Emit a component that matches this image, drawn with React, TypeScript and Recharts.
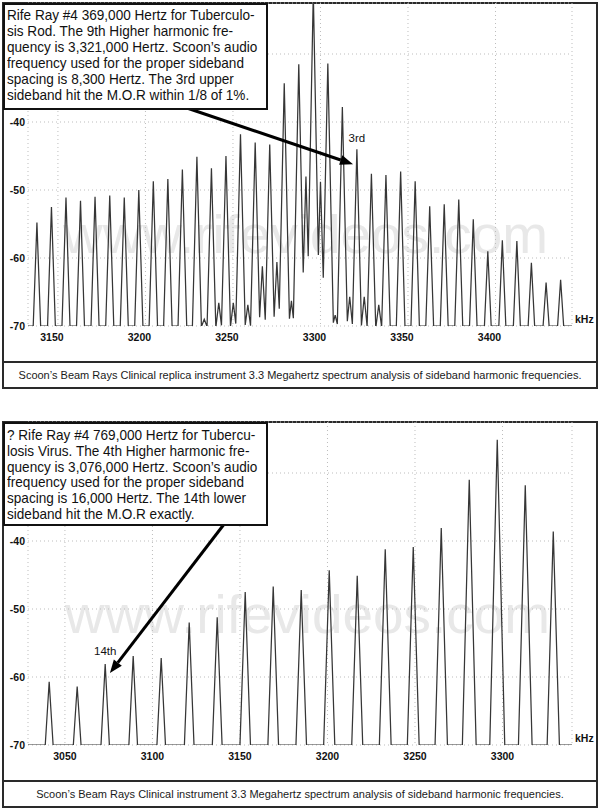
import React from 'react';
import { LineChart, Line, XAxis, YAxis, CartesianGrid, ReferenceLine, ReferenceDot } from 'recharts';

const FONT = '"Liberation Sans", Arial, Helvetica, sans-serif';
const FLOOR = -70;
const Y_TOP = -22.5;
const Y_TICKS = [-70, -60, -50, -40, -30];
const Y_LABELLED = [-70, -60, -50, -40]; // -30 only has a grid line
const PX_PER_KHZ = 1.75;

// top panel: 369,000 Hz ray, 9th harmonic, 8.3 kHz sideband spacing
const topDomain: [number, number] = [3132.9, 3443.7];
const topTicks = [3150, 3200, 3250, 3300, 3350, 3400];
const topKhz = [
  3138.0, 3146.3, 3154.6, 3162.9, 3171.2, 3179.6, 3187.9, 3196.2, 3204.5, 3212.8,
  3221.1, 3229.4, 3237.7, 3246.0, 3254.3, 3262.7, 3271.0, 3279.3, 3287.6, 3295.9,
  3304.2, 3312.5, 3320.8, 3329.1, 3337.4, 3345.8, 3354.1, 3362.4, 3370.7, 3379.0,
  3387.3, 3395.6, 3403.9, 3412.2, 3420.5, 3428.9, 3437.2,
];
const topDb = [
  -54.8, -52.5, -51.1, -51.6, -51.0, -50.8, -51.1, -50.0, -48.7, -48.4,
  -47.0, -45.1, -46.8, -45.0, -41.8, -43.0, -43.3, -34.3, -31.5, -21.0,
  -31.4, -37.8, -44.0, -47.6, -47.8, -47.3, -48.7, -52.4, -52.1, -51.4,
  -54.3, -59.0, -57.4, -57.5, -60.7, -63.6, -63.2,
];
// small in-between components
const topSubKhz = [3233.6, 3241.9, 3250.2, 3258.5, 3266.8, 3275.1, 3283.4, 3291.7, 3300.0, 3308.4, 3316.7, 3325.0, 3333.3];
const topSubDb = [-69.0, -66.6, -66.6, -66.9, -61.2, -60.6, -66.3, -48.0, -48.8, -68.4, -65.7, -65.7, -66.9];

// bottom panel: 769,000 Hz ray, 4th harmonic, 16 kHz sideband spacing
const botDomain: [number, number] = [3028.9, 3339.7];
const botTicks = [3050, 3100, 3150, 3200, 3250, 3300];
const botKhz = [3041, 3057, 3073, 3089, 3105, 3121, 3137, 3153, 3169, 3185, 3201, 3217, 3233, 3249, 3265, 3281, 3297, 3313, 3329];
const botDb = [-60.7, -61.4, -58.1, -56.9, -57.2, -52.0, -51.2, -47.5, -46.7, -47.2, -44.3, -45.1, -41.2, -40.9, -38.1, -31.0, -25.1, -31.8, -38.6];

const topNote = [
  'Rife Ray #4 369,000 Hertz for Tuberculo-',
  'sis Rod. The 9th Higher harmonic fre-',
  'quency is 3,321,000 Hertz. Scoon\u2019s audio',
  'frequency used for the proper sideband',
  'spacing is 8,300 Hertz. The 3rd upper',
  'sideband hit the M.O.R within 1/8 of 1%.',
];
const botNote = [
  '? Rife Ray #4 769,000 Hertz for Tubercu-',
  'losis Virus. The 4th Higher harmonic fre-',
  'quency is 3,076,000 Hertz. Scoon\u2019s audio',
  'frequency used for the proper sideband',
  'spacing is 16,000 Hertz. The 14th lower',
  'sideband hit the M.O.R exactly.',
];
const topCaption = 'Scoon\u2019s Beam Rays Clinical replica instrument 3.3 Megahertz spectrum analysis of sideband harmonic frequencies.';
const botCaption = 'Scoon\u2019s Beam Rays Clinical instrument 3.3 Megahertz spectrum analysis of sideband harmonic frequencies.';

type Pt = { f: number; v: number };

// turns peak list into a spike trace sitting on the -70 floor
function buildTrace(
  groups: [number[], number[]][],
  domain: [number, number],
  hbBase: number,
  hbSlope: number
): Pt[] {
  const peaks = groups
    .flatMap(([fs, vs]) =>
      fs.map((f, i) => {
        const h = vs[i] - FLOOR;
        const hb = (hbBase + hbSlope * h) / PX_PER_KHZ;
        return { f, v: vs[i], hb, s: h / hb };
      })
    )
    .sort((a, b) => a.f - b.f);
  const pts: Pt[] = [{ f: domain[0], v: FLOOR }];
  peaks.forEach((p, i) => {
    if (i === 0) pts.push({ f: p.f - p.hb, v: FLOOR });
    pts.push({ f: p.f, v: p.v });
    const n = peaks[i + 1];
    if (!n) {
      pts.push({ f: p.f + p.hb, v: FLOOR });
      return;
    }
    if (p.f + p.hb <= n.f - n.hb) {
      pts.push({ f: p.f + p.hb, v: FLOOR }, { f: n.f - n.hb, v: FLOOR });
    } else {
      const f = (p.v - n.v + p.s * p.f + n.s * n.f) / (p.s + n.s);
      pts.push({ f, v: p.v - p.s * (f - p.f) });
    }
  });
  pts.push({ f: domain[1], v: FLOOR });
  return pts;
}

const topData = buildTrace([[topKhz, topDb], [topSubKhz, topSubDb]], topDomain, 2.5, 0.08);
const botData = buildTrace([[botKhz, botDb]], botDomain, 3, 0.1);

const Arrow = (p: any) => {
  const { x1, y1, x2, y2 } = p;
  const a = Math.atan2(y2 - y1, x2 - x1);
  const L = 13;
  const W = 5;
  const bx = x2 - L * Math.cos(a);
  const by = y2 - L * Math.sin(a);
  const nx = -Math.sin(a) * W;
  const ny = Math.cos(a) * W;
  return (
    <g>
      <line x1={x1} y1={y1} x2={bx} y2={by} stroke="#000" strokeWidth={3} />
      <polygon points={`${x2},${y2} ${bx + nx},${by + ny} ${bx - nx},${by - ny}`} fill="#000" />
    </g>
  );
};

const XTick = ({ x, y, payload, shift }: any) => (
  <text x={x + (shift || 0)} y={y} dy="0.71em" textAnchor="middle" fontSize={10.5} fontWeight="bold" fill="#111" fontFamily={FONT}>
    {payload.value}
  </text>
);

const YTick = ({ x, y, payload }: any) =>
  Y_LABELLED.includes(payload.value) ? (
    <text x={x} y={y} dy="0.355em" textAnchor="end" fontSize={10.5} fontWeight="bold" fill="#111" fontFamily={FONT}>
      {payload.value}
    </text>
  ) : (
    <g />
  );

const khzLabel = (props: any) => {
  const vb = props.viewBox || {};
  return (
    <text x={vb.x + vb.width + 3} y={vb.y - 3} fontSize={10.5} fontWeight="bold" fill="#111" fontFamily={FONT}>
      kHz
    </text>
  );
};

interface PanelProps {
  top: number;
  data: Pt[];
  domain: [number, number];
  ticks: number[];
  tickShift: number;
  note: string[];
  noteH: number;
  noteTop: number;
  noteLine: number;
  caption: string;
  mark: { f: number; v: number; text: string; offset: number };
  arrow: [number, number, number, number];
  wmY: number;
  wmX: number;
}

const Panel = ({ top, data, domain, ticks, tickShift, note, noteH, noteTop, noteLine, caption, mark, arrow, wmY, wmX }: PanelProps) => (
  <div style={{ position: 'absolute', left: 0, top, width: 600, height: 392 }}>
    <div style={{ position: 'absolute', left: 2, top: 2, width: 596, height: 387, boxSizing: 'border-box', border: '2px solid #2a2a2a', background: '#fff' }} />
    <svg width={600} height={360} style={{ position: 'absolute', left: 0, top: 0 }}>
      <text x={wmX} y={wmY} fontSize={54} fill="#e8e8e8" fontFamily={FONT} textLength={485} lengthAdjust="spacingAndGlyphs">
        www.rifevideos.com
      </text>
    </svg>
    <div style={{ position: 'absolute', left: 0, top: 0 }}>
      <LineChart width={600} height={362} data={data} margin={{ top: 3, right: 28, bottom: 6, left: 0 }}>
        <CartesianGrid stroke="#bdbdbd" strokeDasharray="1 3" />
        <XAxis
          type="number"
          dataKey="f"
          domain={domain}
          ticks={ticks}
          interval={0}
          allowDataOverflow
          axisLine={false}
          tickLine={false}
          tickSize={0}
          tickMargin={8}
          height={30}
          tick={<XTick shift={tickShift} />}
        />
        <YAxis
          type="number"
          domain={[FLOOR, Y_TOP]}
          ticks={Y_TICKS}
          interval={0}
          allowDataOverflow
          axisLine={false}
          tickLine={false}
          tickSize={0}
          tickMargin={3}
          width={28}
          tick={<YTick />}
        />
        <Line type="linear" dataKey="v" stroke="#363636" strokeWidth={1.25} dot={false} activeDot={false} isAnimationActive={false} />
        <ReferenceLine y={FLOOR} stroke="none" label={khzLabel} />
        <ReferenceLine
          segment={[{ x: arrow[0], y: arrow[1] }, { x: arrow[2], y: arrow[3] }]}
          shape={Arrow}
          ifOverflow="visible"
        />
        <ReferenceDot
          x={mark.f}
          y={mark.v}
          r={0}
          stroke="none"
          label={{ value: mark.text, position: 'top', offset: mark.offset, fill: '#111', fontSize: 11.5, fontFamily: FONT }}
        />
      </LineChart>
    </div>
    <div style={{ position: 'absolute', left: 2, top: 361, width: 596, height: 2, background: '#2a2a2a' }} />
    <div
      style={{
        position: 'absolute',
        left: 0,
        top: 367,
        width: 600,
        textAlign: 'center',
        fontFamily: FONT,
        fontSize: 11,
        lineHeight: '16px',
        color: '#1a1a1a',
        whiteSpace: 'nowrap',
      }}
    >
      {caption}
    </div>
    <div
      style={{
        position: 'absolute',
        left: 3,
        top: 3,
        width: 265,
        height: noteH,
        boxSizing: 'border-box',
        border: '2px solid #111',
        background: '#fff',
      }}
    />
    <div style={{ position: 'absolute', left: 7, top: noteTop, fontFamily: FONT, fontSize: 15, lineHeight: `${noteLine}px`, color: '#111', whiteSpace: 'nowrap', transform: 'scaleX(0.905)', transformOrigin: 'left top' }}>
      {note.map((t) => (
        <div key={t}>{t}</div>
      ))}
    </div>
  </div>
);

export default function App() {
  return (
    <div style={{ position: 'absolute', left: 0, top: 0, width: 600, height: 810, background: '#fff', overflow: 'hidden' }}>
      <Panel
        top={0}
        data={topData}
        domain={topDomain}
        ticks={topTicks}
        tickShift={-6}
        note={topNote}
        noteH={107}
        noteTop={7}
        noteLine={16}
        caption={topCaption}
        mark={{ f: 3320.8, v: -44.0, text: '3rd', offset: 7 }}
        arrow={[3218.6, -37.5, 3318.6, -46.2]}
        wmY={253}
        wmX={63}
      />
      <Panel
        top={419}
        data={botData}
        domain={botDomain}
        ticks={botTicks}
        tickShift={0}
        note={botNote}
        noteH={104}
        noteTop={8}
        noteLine={15.8}
        caption={botCaption}
        mark={{ f: 3073, v: -58.1, text: '14th', offset: 9 }}
        arrow={[3142.2, -37.1, 3075.7, -59.4]}
        wmY={214}
        wmX={65}
      />
    </div>
  );
}
